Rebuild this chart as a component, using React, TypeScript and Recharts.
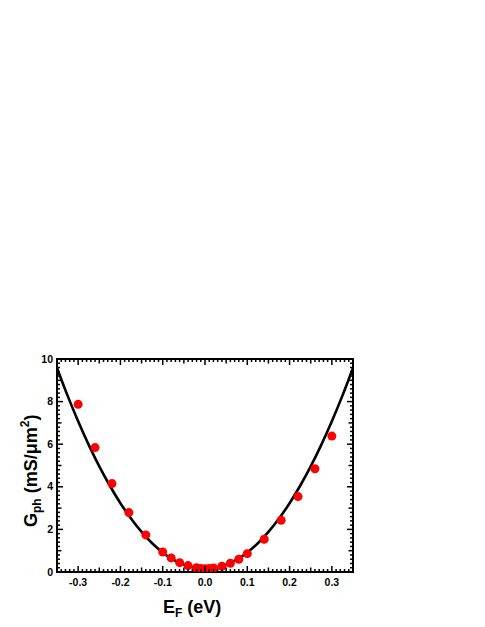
import React from 'react';
import {
  ComposedChart, Line, Scatter, XAxis, YAxis, ReferenceArea,
} from 'recharts';

// measured points (E_F in eV, G_ph in mS/um^2)
const pointE = [
  -0.3, -0.26, -0.22, -0.18, -0.14, -0.1, -0.08, -0.06, -0.04, -0.02, -0.01,
  0, 0.01, 0.02, 0.04, 0.06, 0.08, 0.1, 0.14, 0.18, 0.22, 0.26, 0.3,
];
const pointG = [
  7.87, 5.84, 4.15, 2.79, 1.74, 0.94, 0.66, 0.44, 0.3, 0.2, 0.17,
  0.15, 0.16, 0.19, 0.27, 0.41, 0.6, 0.86, 1.54, 2.43, 3.54, 4.85, 6.38,
];

// fitted curve
const fitE = [
  -0.35, -0.325, -0.3, -0.275, -0.25, -0.225, -0.2, -0.175, -0.15, -0.125, -0.1,
  -0.075, -0.05, -0.025, 0, 0.025, 0.05, 0.075, 0.1, 0.125, 0.15, 0.175, 0.2,
  0.225, 0.25, 0.275, 0.3, 0.325, 0.35,
];
const fitG = [
  9.58, 8.28, 7.08, 5.97, 4.96, 4.05, 3.23, 2.51, 1.88, 1.35, 0.92,
  0.58, 0.34, 0.2, 0.15, 0.2, 0.34, 0.58, 0.92, 1.35, 1.88, 2.51, 3.23,
  4.05, 4.96, 5.97, 7.08, 8.28, 9.58,
];

const xTickLabels: Record<string, string> = {
  '-0.3': '-0.3', '-0.2': '-0.2', '-0.1': '-0.1', '0': '0.0',
  '0.1': '0.1', '0.2': '0.2', '0.3': '0.3',
};
const yTickLabels: Record<string, string> = {
  '0': '0', '2': '2', '4': '4', '6': '6', '8': '8', '10': '10',
};

const points = pointE.map((e, i) => ({ x: e, y: pointG[i] }));
const fit = fitE.map((e, i) => ({ x: e, y: fitG[i] }));

// minor ticks every 0.01 eV and every 0.2 mS/um^2
const xTicks = Array.from({ length: 71 }, (_, i) => Math.round(-35 + i) / 100);
const yTicks = Array.from({ length: 51 }, (_, i) => Math.round(i * 2) / 10);

const W = 485;
const H = 627;
const TOP = 359;
const LEFT = 57;
const RIGHT = 353;
const BOTTOM = 572;
const FONT = '"Liberation Sans", Arial, sans-serif';

const near = (v: number) => Math.abs(v - Math.round(v)) < 1e-6;

const XTick = (p: any) => {
  const { x, payload } = p;
  const v = payload.value;
  const major = near(v * 10);
  const len = major ? 6 : near(v * 20) ? 4.5 : 3;
  const lbl = xTickLabels[String(Math.round(v * 10) / 10)];
  return (
    <g>
      <line x1={x} x2={x} y1={BOTTOM} y2={BOTTOM - len} stroke="#000" strokeWidth={1.5} />
      <line x1={x} x2={x} y1={TOP} y2={TOP + len} stroke="#000" strokeWidth={1.5} />
      {major && (
        <text x={x} y={BOTTOM + 14} textAnchor="middle" fontFamily={FONT}
          fontWeight="bold" fontSize={10.5} fill="#000">{lbl}</text>
      )}
    </g>
  );
};

const YTick = (p: any) => {
  const { y, payload } = p;
  const v = payload.value;
  const major = near(v / 2);
  const len = major ? 6 : near(v) ? 4.5 : 3;
  return (
    <g>
      <line x1={LEFT} x2={LEFT + len} y1={y} y2={y} stroke="#000" strokeWidth={1.5} />
      <line x1={RIGHT} x2={RIGHT - len} y1={y} y2={y} stroke="#000" strokeWidth={1.5} />
      {major && (
        <text x={LEFT - 4} y={y + 3.5} textAnchor="end" fontFamily={FONT}
          fontWeight="bold" fontSize={10.5} fill="#000">{yTickLabels[String(Math.round(v))]}</text>
      )}
    </g>
  );
};

const XLabel = () => (
  <text x={163} y={613} fontFamily={FONT} fontWeight="bold" fontSize={18} fill="#000">
    E<tspan fontSize={12} dy={4}>F</tspan><tspan dy={-4}> (eV)</tspan>
  </text>
);

const YLabel = () => (
  <text x={0} y={0} transform="translate(37,527) rotate(-90)" fontFamily={FONT}
    fontWeight="bold" fontSize={18} fill="#000">
    G<tspan fontSize={12} dy={4}>ph</tspan>
    <tspan dy={-4}> (mS/μm</tspan>
    <tspan fontSize={12} dy={-8}>2</tspan>
    <tspan dy={8}>)</tspan>
  </text>
);

export default function App() {
  return (
    <div style={{ position: 'absolute', left: 0, top: 0, width: W, height: H, background: '#fff' }}>
      <ComposedChart width={W} height={H}
        margin={{ top: TOP, right: W - RIGHT, bottom: 0, left: 0 }}>
        <XAxis type="number" dataKey="x" domain={[-0.35, 0.35]} ticks={xTicks} interval={0}
          height={H - BOTTOM} tickSize={0} tickMargin={0} tick={<XTick />}
          axisLine={{ stroke: '#000', strokeWidth: 2 }} tickLine={false}
          allowDataOverflow label={{ content: () => <XLabel /> }} />
        <YAxis type="number" dataKey="y" domain={[0, 10]} ticks={yTicks} interval={0}
          width={LEFT} tickSize={0} tickMargin={0} tick={<YTick />}
          axisLine={{ stroke: '#000', strokeWidth: 2 }} tickLine={false}
          allowDataOverflow label={{ content: () => <YLabel /> }} />
        <ReferenceArea x1={-0.35} x2={0.35} y1={0} y2={10} fill="none" fillOpacity={0}
          stroke="#000" strokeWidth={2} ifOverflow="extendDomain" />
        <Line data={fit} dataKey="y" type="natural" stroke="#000" strokeWidth={2.6}
          dot={false} activeDot={false} isAnimationActive={false} />
        <Scatter data={points} dataKey="y" fill="#ff0000" isAnimationActive={false}
          shape={(p: any) => <circle cx={p.cx} cy={p.cy} r={4.5} fill="#ff0000" />} />
      </ComposedChart>
    </div>
  );
}
